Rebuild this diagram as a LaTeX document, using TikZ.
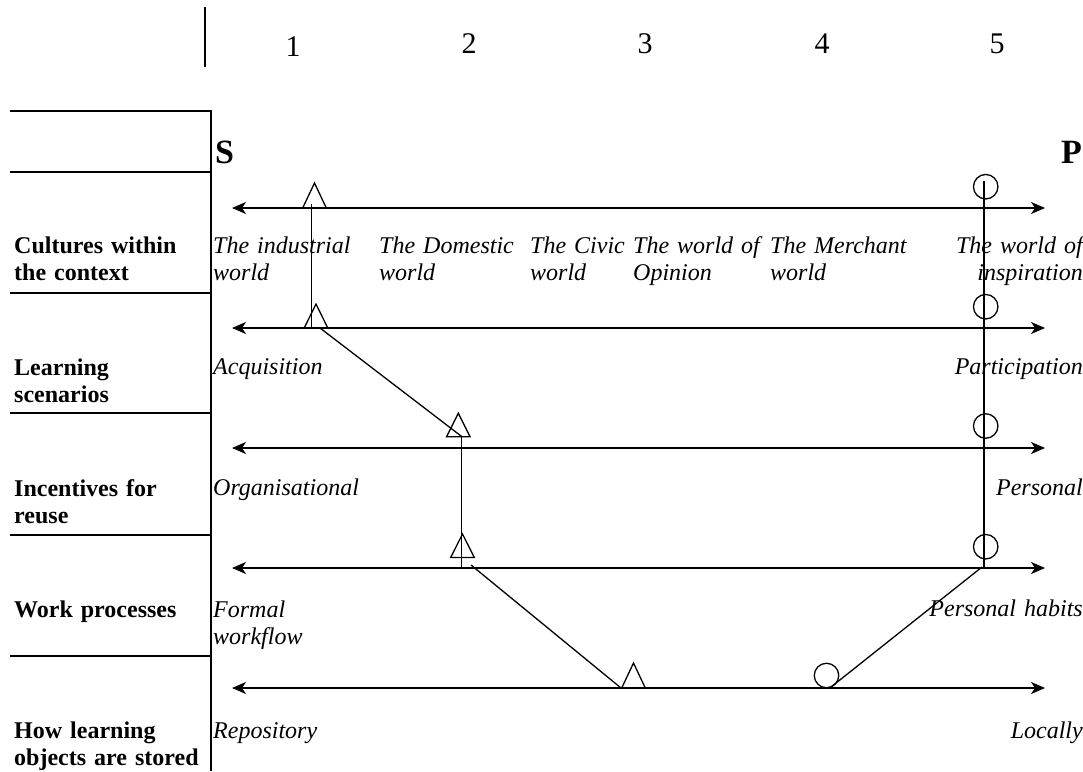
\documentclass[tikz,border=0pt]{standalone}
\usepackage{fontspec}
\setmainfont{Liberation Serif}
\usetikzlibrary{arrows.meta}
\tikzset{
  table/.style={line width=2pt},
  axis/.style={line width=1.6pt,{Stealth[length=14pt,width=12pt,inset=4pt]}-{Stealth[length=14pt,width=12pt,inset=4pt]}},
  link/.style={line width=1.3pt},
  marker/.style={line width=1.3pt},
  ring/.style={circle,draw,line width=1.3pt,minimum size=24.5pt,inner sep=0pt},
  rowlabel/.style={font=\fontsize{24}{27.5}\selectfont\bfseries,inner sep=0pt,anchor=base west,text width=200pt,align=left},
  ltext/.style={font=\fontsize{24}{27.5}\selectfont\itshape,inner sep=0pt,anchor=base west,text width=200pt,align=left},
  rtext/.style={font=\fontsize{24}{27.5}\selectfont\itshape,inner sep=0pt,anchor=base east,text width=200pt,align=right},
  digit/.style={font=\fontsize{30}{32}\selectfont,inner sep=0pt,anchor=base},
  pole/.style={font=\fontsize{34}{36}\selectfont\bfseries,inner sep=0pt},
}
\begin{document}
\begin{tikzpicture}[x=1pt,y=-1pt]
\useasboundingbox (0,0) rectangle (1083,771);
% top scale
\coordinate (st) at (205,7);
\coordinate (sb) at (205,67);
\draw[line width=1.8pt] (st) -- (sb);
\node[digit] (n1) at (293,56) {1};
\node[digit] (n2) at (469,53) {2};
\node[digit] (n3) at (645,53) {3};
\node[digit] (n4) at (822,53) {4};
\node[digit] (n5) at (997,53) {5};
% table
\coordinate (vt) at (211,110);
\coordinate (vb) at (211,771);
\draw[table] (vt) -- (vb);
\foreach \yy/\nm in {111/h0,172/h1,293/h2,413/h3,535/h4,656/h5}{
  \coordinate (\nm l) at (10,\yy);
  \coordinate (\nm r) at (211,\yy);
  \draw[table] (\nm l) -- (\nm r);
}
% poles
\node[pole,anchor=base west] (S) at (215,163) {S};
\node[pole,anchor=base east] (P) at (1082,163) {P};
% row labels
\node[rowlabel] (r1) at (14,253) {Cultures within\\the context};
\node[rowlabel] (r2) at (14,375) {Learning\\scenarios};
\node[rowlabel] (r3) at (14,496) {Incentives for\\reuse};
\node[rowlabel] (r4) at (14,617) {Work processes};
\node[rowlabel] (r5) at (14,738) {How learning\\objects are stored};
% axes
\foreach \yy/\nm in {208/a1,328/a2,448/a3,568/a4,688/a5}{
  \coordinate (\nm L) at (232,\yy);
  \coordinate (\nm R) at (1045,\yy);
  \draw[axis] (\nm L) -- (\nm R);
}
% row 1 texts
\node[ltext] (c1) at (213,253) {The industrial\\world};
\node[ltext] (c2) at (379,253) {The Domestic\\world};
\node[ltext] (c3) at (530,253) {The Civic\\world};
\node[ltext] (c4) at (633,253) {The world of\\Opinion};
\node[ltext] (c5) at (770,253) {The Merchant\\world};
\node[rtext] (c6) at (1083,253) {The world of\\inspiration};
% other rows
\node[ltext] (l2) at (213,374) {Acquisition};
\node[rtext] (p2) at (1083,374) {Participation};
\node[ltext] (l3) at (213,495) {Organisational};
\node[rtext] (p3) at (1083,495) {Personal};
\node[ltext] (l4) at (213,617) {Formal\\workflow};
\node[rtext] (p4) at (1083,616) {Personal habits};
\node[ltext] (l5) at (213,738) {Repository};
\node[rtext] (p5) at (1083,738) {Locally};
% triangles (S-side profile)
\coordinate (t1) at (314.5,208);
\coordinate (t2) at (316,328);
\coordinate (t3) at (458.3,436.8);
\coordinate (t4) at (462.5,557.5);
\coordinate (t5) at (633.5,688);
\foreach \t/\h in {t1/25,t2/24,t3/23.5,t4/23.5,t5/25}{
  \draw[marker,line join=miter] (\t) ++(-11.8,0) -- ++(11.8,-\h) -- ++(11.8,\h) -- cycle;
}
% S-side connectors
\coordinate (s1a) at (311.7,204);
\coordinate (s1b) at (311.7,328);
\coordinate (s2a) at (320,328);
\coordinate (s2b) at (461.7,436.5);
\coordinate (s3a) at (461.7,436.5);
\coordinate (s3b) at (461.7,567.5);
\coordinate (s4a) at (471,565);
\coordinate (s4b) at (621,688);
\draw[link] (s1a) -- (s1b);
\draw[link] (s2a) -- (s2b);
\draw[link] (s3a) -- (s3b);
\draw[link] (s4a) -- (s4b);
% circles (P-side profile)
\node[ring] (o1) at (985.7,186.7) {};
\node[ring] (o2) at (985.7,306.7) {};
\node[ring] (o3) at (985.7,426) {};
\node[ring] (o4) at (985.7,546.7) {};
\node[ring] (o5) at (826.5,675.5) {};
\coordinate (p1a) at (984,181);
\coordinate (p1b) at (984,567);
\coordinate (p2a) at (982,567);
\coordinate (p2b) at (831,687);
\draw[link] (p1a) -- (p1b);
\draw[link] (p2a) -- (p2b);
\end{tikzpicture}
\end{document}
